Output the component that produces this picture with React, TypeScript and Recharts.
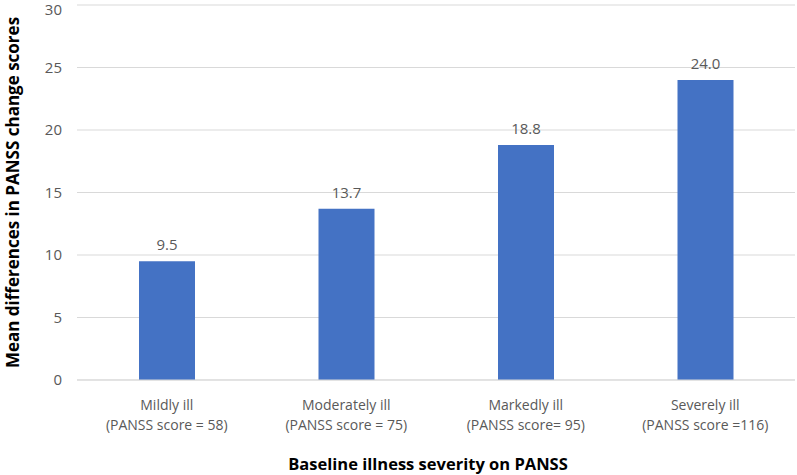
import { BarChart, Bar, XAxis, YAxis, CartesianGrid, LabelList, Label } from 'recharts'

const severity = ['Mildly ill', 'Moderately ill', 'Markedly ill', 'Severely ill']
const scoreNotes = ['(PANSS score = 58)', '(PANSS score = 75)', '(PANSS score= 95)', '(PANSS score =116)']
const meanDiff = [9.5, 13.7, 18.8, 24.0]
const yTicks = [0, 5, 10, 15, 20, 25, 30]

const data = severity.map((name, i) => ({ name, note: scoreNotes[i], value: meanDiff[i] }))

const font = "'Open Sans', 'Liberation Sans', sans-serif"
const grey = '#595959'

function CategoryTick(props: any) {
  const { x, y, payload, index } = props
  return (
    <g transform={`translate(${x},${y})`}>
      <text textAnchor="middle" fill={grey} fontSize={14} fontFamily={font}>
        <tspan x={0} dy={22}>{payload.value}</tspan>
        <tspan x={0} dy={20}>{scoreNotes[index]}</tspan>
      </text>
    </g>
  )
}

export default function App() {
  return (
    <div style={{ position: 'absolute', left: 0, top: 0, background: '#fff' }}>
      <BarChart
        width={797}
        height={475}
        data={data}
        margin={{ top: 5, right: 2, left: 0, bottom: 0 }}
      >
        <CartesianGrid vertical={false} stroke="#d9d9d9" />
        <XAxis
          dataKey="name"
          height={95}
          tick={<CategoryTick />}
          tickLine={false}
          axisLine={{ stroke: '#d9d9d9' }}
          interval={0}
        >
          <Label
            content={(p: any) => {
              const vb = p.viewBox
              return (
                <text
                  x={vb.x + vb.width / 2 - 8}
                  y={470}
                  textAnchor="middle"
                  fontFamily={font}
                  fontWeight={700}
                  fontSize={16.5}
                  fill="#000"
                >
                  Baseline illness severity on PANSS
                </text>
              )
            }}
          />
        </XAxis>
        <YAxis
          width={77}
          domain={[0, 30]}
          ticks={yTicks}
          tickLine={false}
          axisLine={false}
          tick={{ fill: grey, fontSize: 15, fontFamily: font }}
          tickMargin={9}
        >
          <Label
            content={(p: any) => {
              const vb = p.viewBox
              const cy = vb.y + vb.height / 2
              return (
                <text
                  x={12}
                  y={cy}
                  transform={`rotate(-90, 12, ${cy})`}
                  textAnchor="middle"
                  dominantBaseline="central"
                  fontFamily={font}
                  fontWeight={700}
                  fontSize={17}
                  fill="#000"
                >
                  Mean differences in PANSS change scores
                </text>
              )
            }}
          />
        </YAxis>
        <Bar dataKey="value" fill="#4472c4" barSize={56} isAnimationActive={false}>
          <LabelList
            dataKey="value"
            position="top"
            offset={11}
            formatter={(v: any) => Number(v).toFixed(1)}
            style={{ fill: grey, fontSize: 15, fontFamily: font }}
          />
        </Bar>
      </BarChart>
    </div>
  )
}
